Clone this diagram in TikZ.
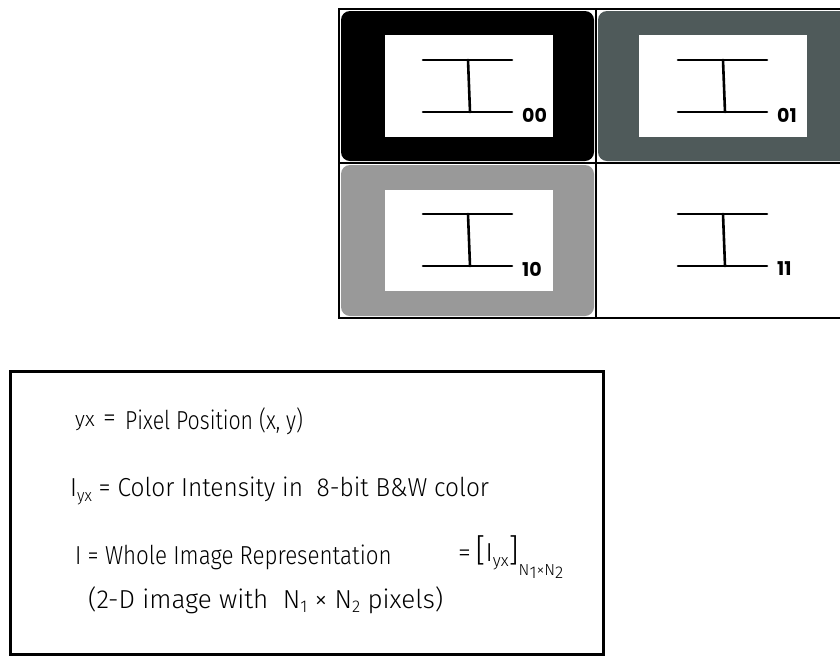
\documentclass[tikz,border=0pt]{standalone}
\usepackage{fontspec}
\newfontfamily\hand{Fira Sans Light}
\newfontfamily\digits{Poppins Bold}
\definecolor{slategrey}{HTML}{4F5A5A}
\definecolor{midgrey}{HTML}{999999}
\newcommand{\hsub}[1]{\raisebox{-0.35ex}{\fontsize{17}{17}\selectfont #1}}
\newcommand{\handsize}{\fontsize{26}{26}\selectfont}
\tikzset{
  x=1pt, y=-1pt,
  gridline/.style={draw=black, line width=1.6pt},
  frame/.style={fill=white, draw=none},
  glyph/.style={line width=2.6pt, line cap=round},
  subdigits/.style={anchor=west, inner sep=0pt, font=\digits\fontsize{19}{19}\selectfont},
  handtext/.style={anchor=west, inner sep=0pt, font=\hand\handsize},
  notebox/.style={draw=black, line width=3pt, fill=white}
}
% one intensity symbol: serif I with its two-digit index
% #1 = left end of bars, #2 = top bar y, #3 = index, #4 = name
\newcommand{\pixelI}[4]{%
  \draw[glyph] (#1,#2) -- ++(89,0);
  \draw[glyph] (#1,#2+52) -- ++(89,0);
  \draw[glyph] (#1+45,#2) -- (#1+47,#2+52);
  \node[subdigits] (#4) at (#1+99,#2+55) {#3};
}
\begin{document}
\begin{tikzpicture}
\useasboundingbox (0,0) rectangle (840,657);
\clip (0,0) rectangle (840,657);

% pixel cells with their grey levels
\fill[black, rounded corners=9pt] (341,11) rectangle (594,161);
\fill[slategrey, rounded corners=9pt] (598,11) rectangle (860,161);
\fill[midgrey, rounded corners=9pt] (341,165) rectangle (594,316);
\fill[frame] (385,35) rectangle (553,137);
\fill[frame] (639,35) rectangle (807,137);
\fill[frame] (385,190) rectangle (553,291);

% grid lines
\draw[gridline] (339,9) rectangle (870,318);
\draw[gridline] (596,9) -- (596,318);
\draw[gridline] (339,163) -- (870,163);

% intensity symbols
\pixelI{423}{60}{00}{i00}
\pixelI{678}{60}{01}{i01}
\pixelI{423}{214}{10}{i10}
\pixelI{678}{214}{11}{i11}

% notes
\draw[notebox] (10,371) rectangle (603,654);
\node[handtext] (l1a) at (75,423) {\fontsize{21}{21}\selectfont yx};
\node[handtext] (l1b) at (103,421) {=};
\node[handtext] (l1c) at (125,421) {\scalebox{0.82}[1]{Pixel Position (x, y)}};
\node[handtext] (l2) at (70,491) {\scalebox{0.94}[1]{I\hsub{yx} = Color Intensity in\ \ 8-bit B\&W color}};
\node[handtext] (l3) at (75,557) {\scalebox{0.86}[1]{I = Whole Image Representation}};
\node[handtext] (l3b) at (458,557) {=\,\fontsize{32}{32}\selectfont[\handsize I\hsub{yx}\fontsize{32}{32}\selectfont]%
  \fontsize{16}{16}\selectfont\raisebox{-1.6ex}{N\hsub{1}×N\hsub{2}}};
\node[handtext] (l4) at (88,600) {(2-D image with\ \ N\hsub{1} × N\hsub{2} pixels)};
\end{tikzpicture}
\end{document}
